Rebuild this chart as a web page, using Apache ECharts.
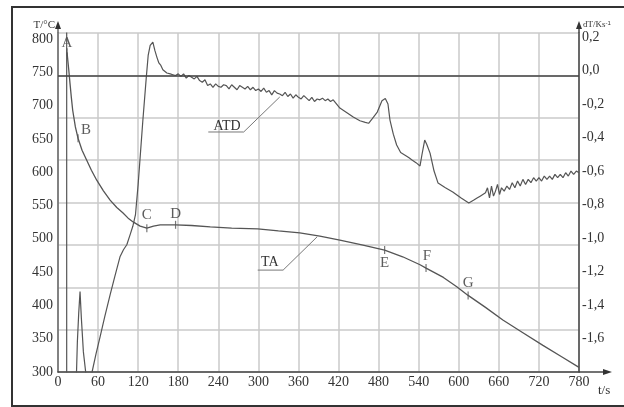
<!DOCTYPE html>
<html>
<head>
<meta charset="utf-8">
<title>TA / ATD</title>
<script src="https://cdn.jsdelivr.net/npm/echarts@6/dist/echarts.min.js"></script>
<style>html,body{margin:0;padding:0;background:#fff}#main{width:624px;height:407px}</style>
</head>
<body>
<div id="main"></div>
<script>
// TA cooling curve, T in °C
var taTime = [13.5,16,18,20,22,26,30,36,43,50, 58,68,78,88,97,105,113,123,133,143,
              153,176,200,228,260,299,330,362,392,422, 455,489,516,542,551,577,597,614,640,666,
              696,726,754,780];
var taTemp = [780,755,733,712,693,668,651,633,618,603, 588,572,558,547,539,531,525,519,516,519,
              521,521,520,518,516,515,512,509,504,498, 491,483,473,461,456,442,428,415,397,378,
              359,340,323,307];

// ATD curve, dT/dt in K/s
var atdTime = [13,13,27,29,31,33,35,38,42,46,51,57,63,70,78,85,93,98,103,108,112,116,120,127,132,135,138,142,145,148,151,154,157,163,168,172,
  176,180,184,188,192,196,200,204,208,212,216,220,224,228,232,236,240,244,248,252,256,260,264,268,
  272,276,280,284,288,292,296,300,304,308,312,316,320,324,328,332,336,340,344,348,352,356,360,364,
  368,372,376,380,384,388,392,396,400,404,408,412,
  422,432,442,452,460,465,470,478,485,490,494,497,502,507,513,519,525,530,536,542,545,549,552,557,563,569,580,591,603,615,
  622,628,632,636,640,643,646,649,652,655,658,661,664,
  668,672,676,680,684,688,692,696,700,704,708,712,716,720,724,728,732,736,740,744,748,752,756,760,764,768,772,776,780];
var atdRate = [0.25,-1.9,-1.9,-1.62,-1.45,-1.32,-1.48,-1.68,-1.82,-1.95,-1.8,-1.69,-1.59,-1.47,-1.34,-1.23,-1.11,-1.07,-1.04,-0.98,-0.93,-0.86,-0.68,-0.3,-0.05,0.09,0.15,0.17,0.12,0.08,0.045,0.03,0.005,-0.015,-0.02,-0.025,
  -0.03,-0.02,-0.035,-0.02,-0.045,-0.03,-0.04,-0.05,-0.035,-0.06,
  -0.07,-0.055,-0.09,-0.08,-0.1,-0.08,-0.095,-0.1,-0.085,-0.09,
  -0.11,-0.085,-0.1,-0.115,-0.09,-0.1,-0.11,-0.095,-0.115,-0.1,
  -0.12,-0.11,-0.125,-0.105,-0.13,-0.12,-0.145,-0.12,-0.135,-0.14,
  -0.15,-0.13,-0.155,-0.14,-0.165,-0.145,-0.16,-0.17,-0.15,-0.165,
  -0.18,-0.16,-0.185,-0.17,-0.175,-0.165,-0.18,-0.17,-0.185,-0.175,
  -0.224,-0.25,-0.278,-0.3,-0.31,-0.315,-0.29,-0.248,-0.18,-0.167,
  -0.2,-0.296,-0.38,-0.445,-0.49,-0.504,-0.52,-0.534,-0.55,-0.57,
  -0.5,-0.415,-0.44,-0.493,-0.6,-0.672,-0.7,-0.725,-0.76,-0.791,
  -0.775,-0.76,-0.75,-0.74,-0.73,-0.7,-0.76,-0.69,-0.75,-0.72,-0.68,-0.74,-0.7,
  -0.72,-0.69,-0.71,-0.67,-0.7,-0.66,-0.69,-0.65,-0.68,-0.65,
  -0.67,-0.64,-0.66,-0.64,-0.66,-0.63,-0.65,-0.63,-0.65,-0.62,
  -0.64,-0.62,-0.64,-0.61,-0.63,-0.6,-0.62,-0.6,-0.61];

// characteristic points on the TA curve
var ptName = ['A','B','C','D','E','F','G'];
var ptTime = [13.5,30,133,176,489,551,614];
var ptTemp = [780,651,516,521,483,456,415];

// callout lines for the curve names
var taLeadTime = [299,337,388];
var taLeadTemp = [453,453,503];
var atdLeadTime = [225,278,332];
var atdLeadRate = [-0.367,-0.367,-0.158];

var T_MIN = 300, T_MAX = 809, R_MIN = -1.8, R_MAX = 0.224;
var font = 'Liberation Serif';
var ink = '#333';
var curveCol = '#555';
var gridCol = '#cacaca';

function zip(a, b) {
    var out = [];
    for (var i = 0; i < a.length; i++) out.push([a[i], b[i]]);
    return out;
}

// letter placement around each point (pixels)
var ptOffset = [[0,-9],[8,-8],[0,-13],[0,-11],[0,13],[1,-12],[0,-12]];
var ptData = ptName.map(function (n, i) {
    return {value: [ptTime[i], ptTemp[i]], name: n, label: {offset: ptOffset[i]}};
});

var chart = echarts.init(document.getElementById('main'));

var option = {
    animation: false,
    grid: {left: 58, right: 45, top: 33, bottom: 35},
    xAxis: {
        type: 'value', min: 0, max: 780, interval: 60,
        axisLine: {onZero: false, lineStyle: {color: '#444', width: 1.5}},
        axisTick: {show: false},
        axisLabel: {margin: 3, fontFamily: font, fontSize: 14, color: ink},
        splitLine: {lineStyle: {color: gridCol, width: 1.5}}
    },
    yAxis: [
        {
            type: 'value', min: T_MIN, max: T_MAX, interval: 50,
            axisLine: {show: true, onZero: false, lineStyle: {color: '#666', width: 1.5}},
            axisTick: {show: false},
            axisLabel: {margin: 5, fontFamily: font, fontSize: 14, color: ink, showMaxLabel: false},
            splitLine: {show: false}
        },
        {
            type: 'value', position: 'right', min: R_MIN, max: R_MAX, interval: 0.2,
            axisLine: {show: true, onZero: false, lineStyle: {color: '#444', width: 1.5}},
            axisTick: {show: false},
            axisLabel: {
                margin: 3, fontFamily: font, fontSize: 14, color: ink,
                showMinLabel: false, showMaxLabel: false,
                formatter: function (v) { return v.toFixed(1).replace('.', ','); }
            },
            splitLine: {show: false}
        },
        {
            // plain background grid, 8 equal bands
            type: 'value', min: 0, max: 8, interval: 1,
            axisLine: {show: false, onZero: false}, axisTick: {show: false}, axisLabel: {show: false},
            splitLine: {show: true, lineStyle: {color: gridCol, width: 1.5}}
        }
    ],
    series: [
        {
            name: 'TA', type: 'line', yAxisIndex: 0,
            data: zip(taTime, taTemp),
            showSymbol: false,
            lineStyle: {color: curveCol, width: 1.3}
        },
        {
            name: 'ATD', type: 'line', yAxisIndex: 1,
            data: zip(atdTime, atdRate),
            showSymbol: false, clip: true,
            lineStyle: {color: curveCol, width: 1.2},
            markLine: {
                silent: true, symbol: 'none', label: {show: false},
                lineStyle: {color: '#444', width: 1.5, type: 'solid'},
                data: [{yAxis: -0.033}]
            }
        },
        {
            type: 'scatter', yAxisIndex: 0,
            data: ptData,
            symbol: 'rect', symbolSize: [1.2, 8],
            itemStyle: {color: curveCol},
            label: {
                show: true, position: 'inside', formatter: '{b}',
                fontFamily: font, fontSize: 15, color: ink
            }
        },
        {
            type: 'line', yAxisIndex: 0,
            data: zip(taLeadTime, taLeadTemp),
            showSymbol: false, silent: true,
            lineStyle: {color: '#777', width: 1},
            markPoint: {
                symbol: 'rect', symbolSize: 1, itemStyle: {color: 'rgba(0,0,0,0)'},
                label: {show: true, position: 'inside', formatter: 'TA', fontFamily: font, fontSize: 14, color: ink},
                data: [{coord: [317, 464]}]
            }
        },
        {
            type: 'line', yAxisIndex: 1,
            data: zip(atdLeadTime, atdLeadRate),
            showSymbol: false, silent: true,
            lineStyle: {color: '#777', width: 1},
            markPoint: {
                symbol: 'rect', symbolSize: 1, itemStyle: {color: 'rgba(0,0,0,0)'},
                label: {show: true, position: 'inside', formatter: 'ATD', fontFamily: font, fontSize: 14, color: ink},
                data: [{coord: [253, -0.331]}]
            }
        }
    ]
};
chart.setOption(option);

// axis arrows, axis names and the outer frame
var o = chart.convertToPixel({xAxisIndex: 0, yAxisIndex: 0}, [0, T_MIN]);
var r = chart.convertToPixel({xAxisIndex: 0, yAxisIndex: 0}, [780, T_MAX]);
var x0 = o[0], yB = o[1], x1 = r[0], yT = r[1];
var axisStroke = {stroke: '#444', lineWidth: 1.5};
chart.setOption({
    graphic: [
        {type: 'rect', silent: true, shape: {x: 12, y: 7, width: 640, height: 399},
         style: {fill: 'none', stroke: '#333', lineWidth: 2}},
        {type: 'line', silent: true, shape: {x1: x1, y1: yB, x2: x1 + 26, y2: yB}, style: axisStroke},
        {type: 'polygon', silent: true, shape: {points: [[x1 + 33, yB], [x1 + 24, yB - 3], [x1 + 24, yB + 3]]}, style: {fill: '#333'}},
        {type: 'line', silent: true, shape: {x1: x0, y1: yT, x2: x0, y2: yT - 6}, style: {stroke: '#666', lineWidth: 1.5}},
        {type: 'polygon', silent: true, shape: {points: [[x0, yT - 12], [x0 - 3, yT - 4], [x0 + 3, yT - 4]]}, style: {fill: '#333'}},
        {type: 'line', silent: true, shape: {x1: x1, y1: yT, x2: x1, y2: yT - 6}, style: axisStroke},
        {type: 'polygon', silent: true, shape: {points: [[x1, yT - 12], [x1 - 3, yT - 4], [x1 + 3, yT - 4]]}, style: {fill: '#333'}},
        {type: 'text', silent: true, x: x0 - 3, y: yT - 8,
         style: {text: 'T/°C', font: '11px "Liberation Serif"', fill: ink, align: 'right', verticalAlign: 'middle'}},
        {type: 'text', silent: true, x: x1 + 4, y: yT - 8,
         style: {text: 'dT/Ks{s|-1}', font: '9px "Liberation Serif"', fill: ink, align: 'left', verticalAlign: 'middle',
                 rich: {s: {fontSize: 6, verticalAlign: 'top', fill: ink, padding: [0, 0, 4, 0]}}}},
        {type: 'text', silent: true, x: x1 + 19, y: yB + 19,
         style: {text: 't/s', font: '13px "Liberation Serif"', fill: ink, align: 'left', verticalAlign: 'middle'}}
    ]
});
</script>
</body>
</html>
